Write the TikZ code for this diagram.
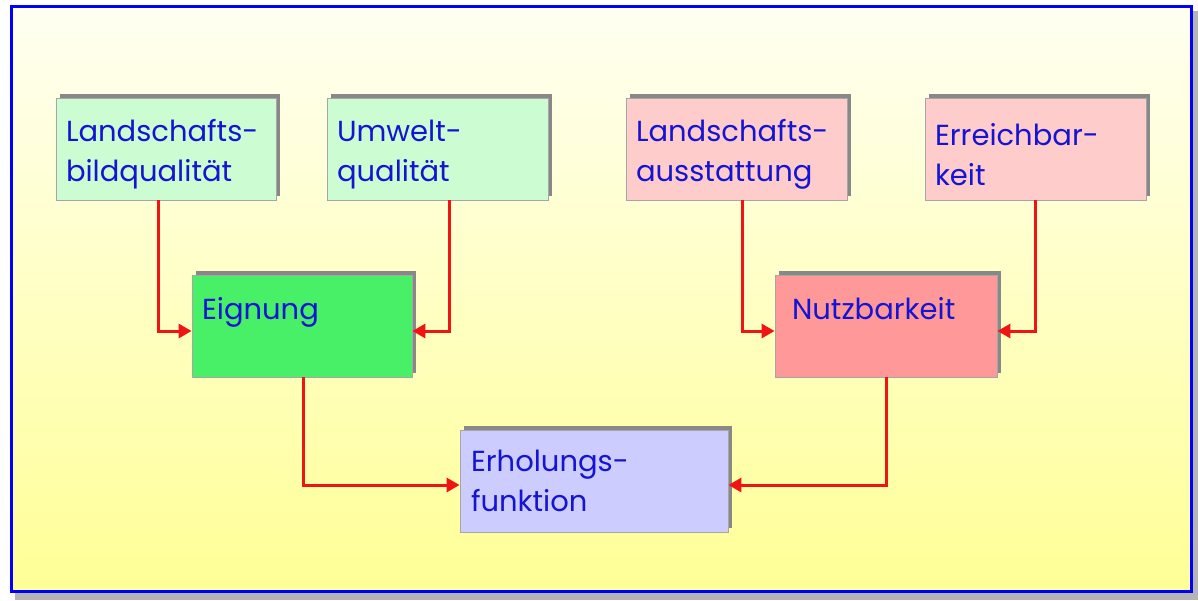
\documentclass[tikz,border=0pt]{standalone}
\usepackage{fontspec}
\setmainfont{Poppins}
\usetikzlibrary{arrows.meta,shadows}
\definecolor{txtblue}{RGB}{20,20,210}
\definecolor{lgreen}{RGB}{204,252,210}
\definecolor{lpink}{RGB}{255,204,204}
\definecolor{dgreen}{RGB}{72,240,104}
\definecolor{dpink}{RGB}{255,153,153}
\definecolor{lblue}{RGB}{204,204,255}
\definecolor{bgtop}{RGB}{255,255,242}
\definecolor{bgbot}{RGB}{255,255,150}
\definecolor{arrred}{RGB}{240,20,20}
\definecolor{shadowgray}{RGB}{136,136,136}
\begin{document}
\begin{tikzpicture}[x=1pt,y=-1pt,
  box/.style={draw=gray!70, line width=0.8pt, inner xsep=10pt, inner ysep=0pt,
    minimum height=102pt, align=left, text=txtblue,
    font=\fontsize{29}{40}\selectfont,
    general shadow={fill=shadowgray, shadow xshift=4pt, shadow yshift=4pt}},
  topbox/.style={box, text height=33pt},
  midbox/.style={box, text height=27pt},
  arr/.style={draw=arrred, line width=3pt, -{Triangle[length=13pt,width=14pt]}}
]
\useasboundingbox (0,0) rectangle (1198,600);
\fill[white] (0,0) rectangle (1198,600);
\fill[gray!95!black!55] (15,11) rectangle (1198,600);
\shade[top color=bgtop, bottom color=bgbot] (11.5,6.5) rectangle (1191.5,591.5);
\draw[blue, line width=3pt] (11.5,6.5) rectangle (1191.5,591.5);

\node[topbox, fill=lgreen, text width=200pt] (lbq) at (166,149) {Landschafts-\\bildqualität};
\node[topbox, fill=lgreen, text width=201pt] (umw) at (437.5,149) {Umwelt-\\qualität};
\node[topbox, fill=lpink, text width=201pt] (lau) at (736.5,149) {Landschafts-\\ausstattung};
\node[topbox, fill=lpink, text width=201pt] (err) at (1035.5,149) {Erreichbar-\\keit};
\node[midbox, fill=dgreen, text width=200pt] (eig) at (302,326) {Eignung\\\mbox{}};
\node[midbox, fill=dpink, text width=202pt, inner xsep=10pt] (nutz) at (886,326) {\hspace*{7pt}Nutzbarkeit\\\mbox{}};
\node[box, fill=lblue, text width=246pt, inner xsep=11pt] (erh) at (594,481) {Erholungs-\\funktion};

\draw[arr] ([xshift=-8pt]lbq.south) |- ([yshift=-5pt]eig.west);
\draw[arr] ([xshift=11.5pt]umw.south) |- ([yshift=-5pt]eig.east);
\draw[arr] ([xshift=5.5pt]lau.south) |- ([yshift=-5pt]nutz.west);
\draw[arr] (err.south) |- ([yshift=-5pt]nutz.east);
\draw[arr] ([xshift=1pt]eig.south) |- ([yshift=-4pt]erh.west);
\draw[arr] (nutz.south) |- ([yshift=-4pt]erh.east);
\end{tikzpicture}
\end{document}
